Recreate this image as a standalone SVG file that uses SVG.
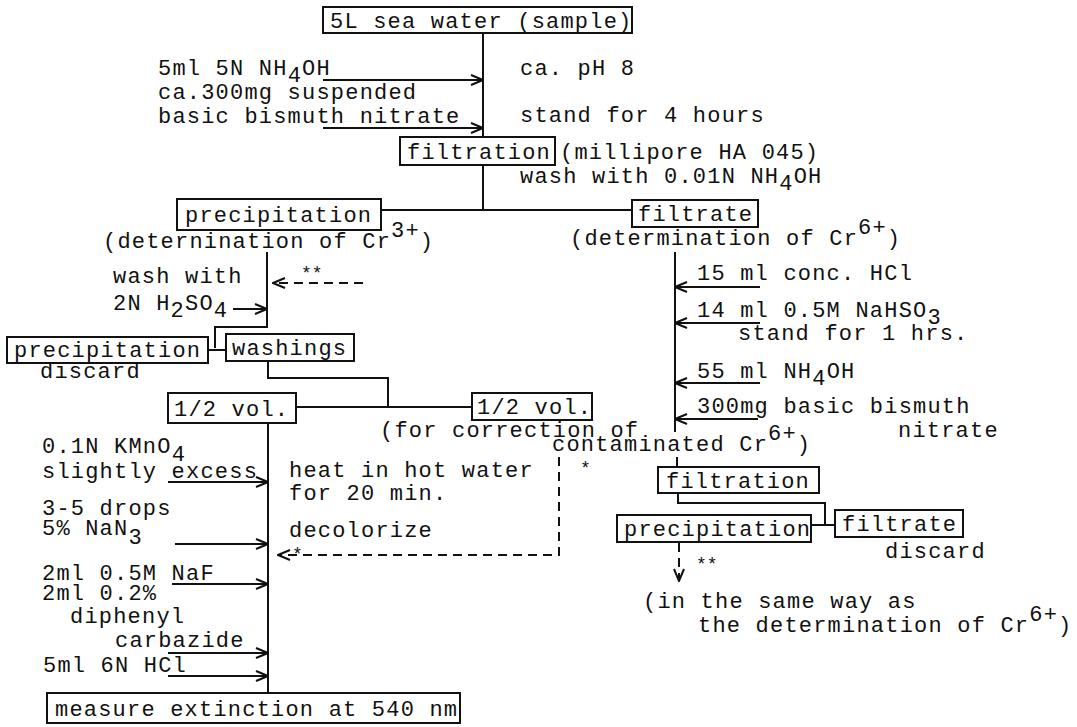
<svg xmlns="http://www.w3.org/2000/svg" width="1077" height="727" viewBox="0 0 1077 727">
<style>
text{font-family:"Liberation Mono","Courier New",monospace;font-size:22px;letter-spacing:1.2px;fill:#111}
.b{fill:#fff;stroke:#111;stroke-width:2}
.c{fill:none;stroke:#111;stroke-width:2}
.d{fill:none;stroke:#111;stroke-width:2;stroke-dasharray:9,6}
.s{font-size:18px;letter-spacing:0}
</style>
<defs>
<marker id="ah" viewBox="0 0 14 12" refX="13" refY="6" markerWidth="14" markerHeight="12" markerUnits="userSpaceOnUse" orient="auto">
<path d="M1,1 L13,6 L1,11" fill="none" stroke="#111" stroke-width="2"/>
</marker>
</defs>
<rect width="1077" height="727" fill="#fff"/>

<g id="connectors">
<path class="c" d="M483,33 V137 M483,165 V210 M381,210 H632"/>
<path class="c" d="M323,80 H483" marker-end="url(#ah)"/>
<path class="c" d="M323,128 H483" marker-end="url(#ah)"/>
<path class="c" d="M267,252 V327 H215 V348 M208,350 H226"/>
<path class="c" d="M233,309 H267" marker-end="url(#ah)"/>
<path class="d" d="M363,283 H273" marker-end="url(#ah)"/>
<path class="c" d="M268,361 V378 H388 V407 M296,407 H472"/>
<path class="c" d="M268,423 V693"/>
<path class="c" d="M168,482 H268" marker-end="url(#ah)"/>
<path class="c" d="M175,544 H268" marker-end="url(#ah)"/>
<path class="c" d="M172,584 H268" marker-end="url(#ah)"/>
<path class="c" d="M168,653 H268" marker-end="url(#ah)"/>
<path class="c" d="M168,676 H268" marker-end="url(#ah)"/>
<path class="d" d="M559,457 V555 H278" marker-end="url(#ah)"/>
<path class="c" d="M675,252 V432 M677,457 V467"/>
<path class="c" d="M760,287 H675" marker-end="url(#ah)"/>
<path class="c" d="M760,323 H675" marker-end="url(#ah)"/>
<path class="c" d="M760,383 H675" marker-end="url(#ah)"/>
<path class="c" d="M758,419 H675" marker-end="url(#ah)"/>
<path class="c" d="M678,493 V503 H825 V525 M811,525 H835"/>
<path class="d" d="M679,543 V581" marker-end="url(#ah)"/>
</g>

<g id="sample"><rect class="b" x="323" y="7" width="309" height="26"/><text x="330" y="28">5L sea water (sample)</text></g>
<g id="reagents1">
<text x="158" y="75">5ml 5N NH<tspan dy="7">4</tspan><tspan dy="-7">OH</tspan></text>
<text x="158" y="99">ca.300mg suspended</text>
<text x="158" y="123">basic bismuth nitrate</text>
</g>
<g id="cond1"><text x="520" y="75">ca. pH 8</text><text x="520" y="122">stand for 4 hours</text></g>
<g id="filtration1"><rect class="b" x="400" y="137" width="155" height="28"/><text x="407" y="159">filtration</text>
<text x="560" y="159">(millipore HA 045)</text>
<text x="520" y="183">wash with 0.01N NH<tspan dy="7">4</tspan><tspan dy="-7">OH</tspan></text></g>
<g id="precip1"><rect class="b" x="177" y="199" width="204" height="31"/><text x="185" y="222">precipitation</text>
<text x="103" y="248">(deternination of Cr<tspan dy="-11">3+</tspan><tspan dy="11">)</tspan></text></g>
<g id="filtrate1"><rect class="b" x="632" y="200" width="126" height="27"/><text x="638" y="221">filtrate</text>
<text x="570" y="245">(determination of Cr<tspan dy="-11">6+</tspan><tspan dy="11">)</tspan></text></g>
<g id="wash"><text x="113" y="283">wash with</text>
<text x="113" y="310">2N H<tspan dy="7">2</tspan><tspan dy="-7">SO</tspan><tspan dy="7">4</tspan></text>
<text x="301" y="279" class="s">**</text></g>
<g id="precip2"><rect class="b" x="7" y="337" width="201" height="26"/><text x="14" y="357">precipitation</text><text x="40" y="378">discard</text></g>
<g id="washings"><rect class="b" x="226" y="334" width="128" height="27"/><text x="232" y="355">washings</text></g>
<g id="half1"><rect class="b" x="168" y="393" width="128" height="30"/><text x="174" y="416">1/2 vol.</text></g>
<g id="half2"><rect class="b" x="472" y="393" width="120" height="27"/><text x="477" y="414">1/2 vol.</text>
<text x="380" y="437">(for correction of</text>
<text x="552" y="451">contaminated Cr<tspan dy="-11">6+</tspan><tspan dy="11">)</tspan></text>
<text x="580" y="474" class="s">*</text></g>
<g id="reagents2">
<text x="697" y="280">15 ml conc. HCl</text>
<text x="697" y="317">14 ml 0.5M NaHSO<tspan dy="7">3</tspan></text>
<text x="738" y="340">stand for 1 hrs.</text>
<text x="697" y="378">55 ml NH<tspan dy="7">4</tspan><tspan dy="-7">OH</tspan></text>
<text x="697" y="413">300mg basic bismuth</text>
<text x="898" y="437">nitrate</text>
</g>
<g id="filtration2"><rect class="b" x="658" y="467" width="161" height="26"/><text x="666" y="488">filtration</text></g>
<g id="precip3"><rect class="b" x="617" y="515" width="194" height="27"/><text x="624" y="536">precipitation</text>
<text x="696" y="570" class="s">**</text>
<text x="643" y="608">(in the same way as</text>
<text x="698" y="632">the determination of Cr<tspan dy="-11">6+</tspan><tspan dy="11">)</tspan></text></g>
<g id="filtrate2"><rect class="b" x="835" y="510" width="128" height="27"/><text x="842" y="531">filtrate</text><text x="885" y="558">discard</text></g>
<g id="reagents3">
<text x="42" y="453">0.1N KMnO<tspan dy="8">4</tspan></text>
<text x="42" y="478">slightly excess</text>
<text x="42" y="515">3-5 drops</text>
<text x="42" y="535">5% NaN<tspan dy="9">3</tspan></text>
<text x="42" y="580">2ml 0.5M NaF</text>
<text x="42" y="600">2ml 0.2%</text>
<text x="70" y="623">diphenyl</text>
<text x="115" y="647">carbazide</text>
<text x="43" y="672">5ml 6N HCl</text>
</g>
<g id="heat"><text x="289" y="477">heat in hot water</text><text x="289" y="500">for 20 min.</text><text x="289" y="537">decolorize</text>
<text x="292" y="560" class="s">*</text></g>
<g id="measure"><rect class="b" x="47" y="693" width="413" height="30"/><text x="55" y="716">measure extinction at 540 nm</text></g>
</svg>
